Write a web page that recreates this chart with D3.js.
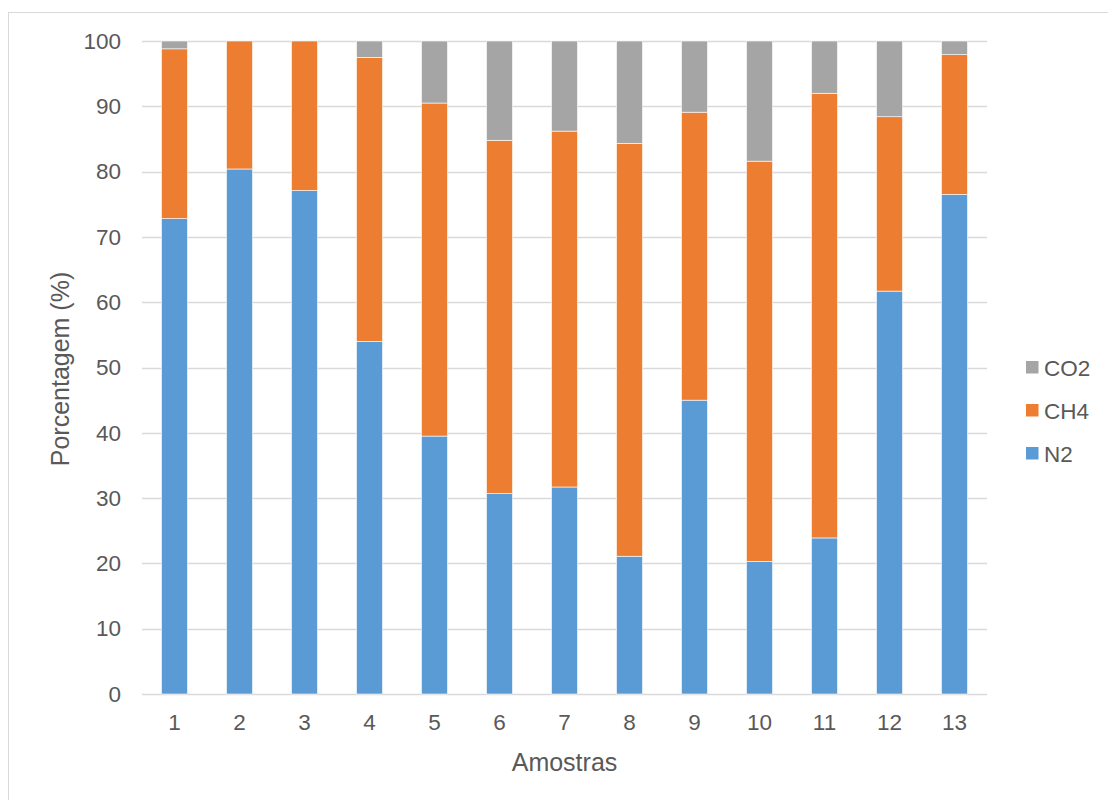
<!DOCTYPE html>
<html><head><meta charset="utf-8">
<script src="https://cdn.jsdelivr.net/npm/d3@7"></script>
<style>body{margin:0;background:#fff;}svg{display:block;font-family:"Liberation Sans",Arial,sans-serif;}</style>
</head><body>
<script>
const categories = ["1","2","3","4","5","6","7","8","9","10","11","12","13"];
const N2  = [72.8, 80.4, 77.1, 54.0, 39.5, 30.7, 31.7, 21.1, 45.0, 20.3, 23.9, 61.7, 76.5];
const CH4 = [26.0, 19.6, 22.9, 43.5, 51.0, 54.1, 54.5, 63.2, 44.1, 61.3, 68.1, 26.7, 21.4];
const CO2 = [1.2, 0.0, 0.0, 2.5, 9.5, 15.2, 13.8, 15.7, 10.9, 18.4, 8.0, 11.6, 2.1];
const seriesNames = ["N2","CH4","CO2"];
const colors = {N2:"#5b9bd5", CH4:"#ed7d31", CO2:"#a5a5a5"};
const yTicks = [0,10,20,30,40,50,60,70,80,90,100];

(function(){
const W = 1108, H = 800;
const svg = d3.select("body").append("svg").attr("width", W).attr("height", H);
svg.append("rect").attr("x",8.5).attr("y",12.5).attr("width",W).attr("height",H)
  .attr("fill","#fff").attr("stroke","#d9d9d9").attr("stroke-width",1);

const pL = 142, pR = 987, pT = 41, pB = 694;
const x = d3.scaleBand().domain(categories).range([pL, pR]).paddingInner(0.6).paddingOuter(0.3);
const y = d3.scaleLinear().domain([0,100]).range([pB, pT]);

svg.append("g").selectAll("line").data(yTicks).join("line")
  .attr("x1", pL).attr("x2", pR)
  .attr("y1", d => Math.round(y(d))+0.5).attr("y2", d => Math.round(y(d))+0.5)
  .attr("stroke","#d9d9d9").attr("stroke-width",1.5);

const data = categories.map((c,i) => ({cat:c, N2:N2[i], CH4:CH4[i], CO2:CO2[i]}));
const stack = d3.stack().keys(seriesNames)(data);

svg.append("g").selectAll("g").data(stack).join("g")
  .attr("fill", d => colors[d.key])
  .selectAll("rect").data(d => d).join("rect")
  .attr("x", d => x(d.data.cat))
  .attr("width", x.bandwidth())
  .attr("y", d => y(d[1]))
  .attr("height", d => Math.max(0, y(d[0]) - y(d[1])))
  .attr("stroke","#fff").attr("stroke-width",0.6);

const fs = "22.5px";
const yAxis = d3.axisLeft(y).tickValues(yTicks).tickSize(0).tickPadding(0);
const gy = svg.append("g").attr("transform", `translate(${pL-21},0)`).call(yAxis);
gy.select(".domain").remove();
gy.selectAll("text").attr("fill","#595959").style("font-size",fs).attr("font-family","Liberation Sans, Arial, sans-serif");

const xAxis = d3.axisBottom(x).tickSize(0).tickPadding(0);
const gx = svg.append("g").attr("transform", `translate(0,${pB+20})`).call(xAxis);
gx.select(".domain").remove();
gx.selectAll("text").attr("fill","#595959").style("font-size",fs).attr("font-family","Liberation Sans, Arial, sans-serif");

svg.append("text").attr("x", (pL+pR)/2).attr("y", 771).attr("text-anchor","middle")
  .attr("fill","#595959").style("font-size","25px").text("Amostras");
svg.append("text").attr("transform", `translate(69,${369}) rotate(-90)`)
  .attr("text-anchor","middle").attr("fill","#595959").style("font-size","25px").text("Porcentagem (%)");

const legendItems = ["CO2","CH4","N2"];
const lg = svg.append("g").selectAll("g").data(legendItems).join("g")
  .attr("transform", (d,i) => `translate(1026,${361 + i*43})`);
lg.append("rect").attr("width",12.5).attr("height",12.5).attr("fill", d => colors[d]);
lg.append("text").attr("x",18).attr("y",6.5).attr("dy","0.36em").attr("fill","#595959").style("font-size",fs).text(d => d);
})();
</script>
</body></html>
